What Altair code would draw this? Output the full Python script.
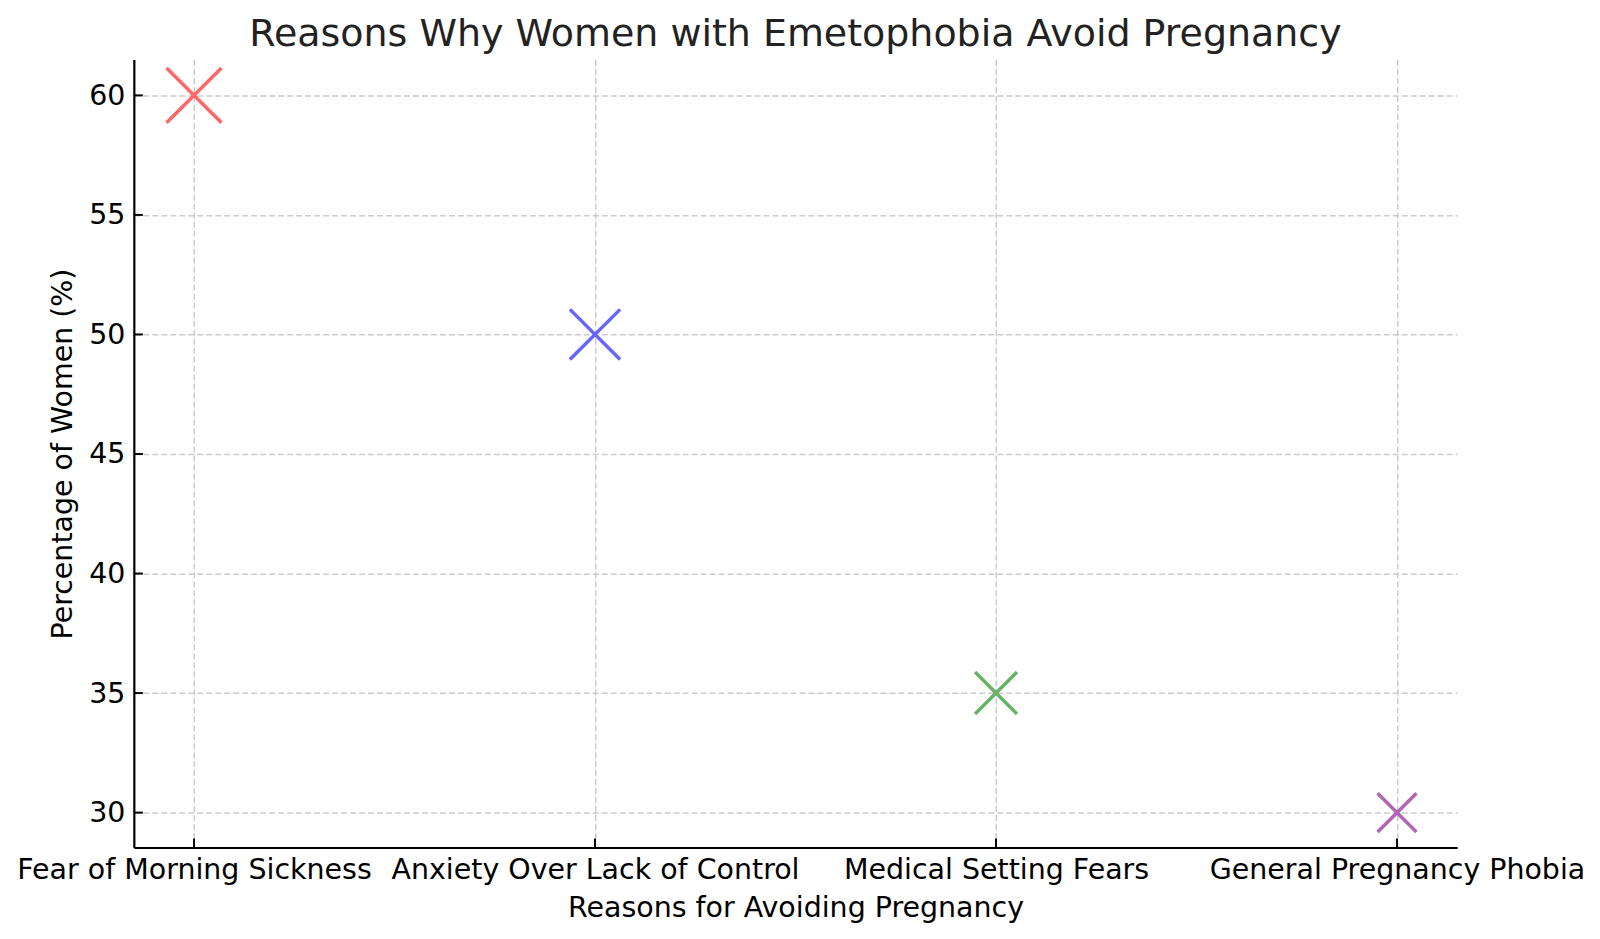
import altair as alt
import pandas as pd

categories = ["Fear of Morning Sickness", "Anxiety Over Lack of Control",
              "Medical Setting Fears", "General Pregnancy Phobia"]
percentages = [60, 50, 35, 30]
colors = ["#FF6666", "#6666FF", "#66B366", "#B366B3"]
y_ticks = [30, 35, 40, 45, 50, 55, 60]

df = pd.DataFrame({"reason": categories, "pct": percentages})
ticks_df = pd.DataFrame({"t": y_ticks})

W, H = 1325, 789
FONT = "DejaVu Sans"

xscale = alt.Scale(type="point", domain=categories, padding=0.15)
yscale = alt.Scale(domain=[28.54, 61.5], nice=False, zero=False)

points = alt.Chart(df).mark_point(
    shape="M-1,-1L1,1M-1,1L1,-1", filled=False, strokeWidth=3.5, opacity=1,
    strokeCap="butt"
).encode(
    x=alt.X("reason:N", scale=xscale, sort=categories,
            axis=alt.Axis(title="Reasons for Avoiding Pregnancy", labelAngle=0, labelLimit=0,
                          grid=True, ticks=False, labelPadding=8, titlePadding=10)),
    y=alt.Y("pct:Q", scale=yscale,
            axis=alt.Axis(title="Percentage of Women (%)", values=y_ticks,
                          grid=True, ticks=False, labelPadding=9, titlePadding=11)),
    color=alt.Color("reason:N", scale=alt.Scale(domain=categories, range=colors), legend=None),
    size=alt.Size("pct:Q", scale=alt.Scale(domain=[0, 60], range=[0, 3025]), legend=None),
)

ytick_marks = alt.Chart(ticks_df).mark_rule(color="black", strokeWidth=2).encode(
    y=alt.Y("t:Q", scale=yscale),
    x=alt.value(0), x2=alt.value(9),
)
xtick_marks = alt.Chart(df).mark_rule(color="black", strokeWidth=2).encode(
    x=alt.X("reason:N", scale=xscale, sort=categories),
    y=alt.value(H), y2=alt.value(H - 9),
)

chart = alt.layer(points, ytick_marks, xtick_marks).properties(
    width=W, height=H,
    title=alt.TitleParams("Reasons Why Women with Emetophobia Avoid Pregnancy",
                          fontSize=38, font=FONT, fontWeight="normal", color="#222222",
                          anchor="middle", frame="group", offset=6),
    autosize=alt.AutoSizeParams(type="none"),
    padding={"left": 126, "top": 51, "right": 135, "bottom": 80},
).configure_view(stroke=None).configure_axis(
    labelFont=FONT, titleFont=FONT, labelFontSize=28.5, titleFontSize=28.5,
    labelColor="black", titleColor="black", titleFontWeight="normal",
    domainColor="black", domainWidth=2.2,
    gridColor="#cccccc", gridDash=[6, 3], gridWidth=1.5,
)

chart.save("out.html", embed_options={"renderer": "svg", "actions": False})
